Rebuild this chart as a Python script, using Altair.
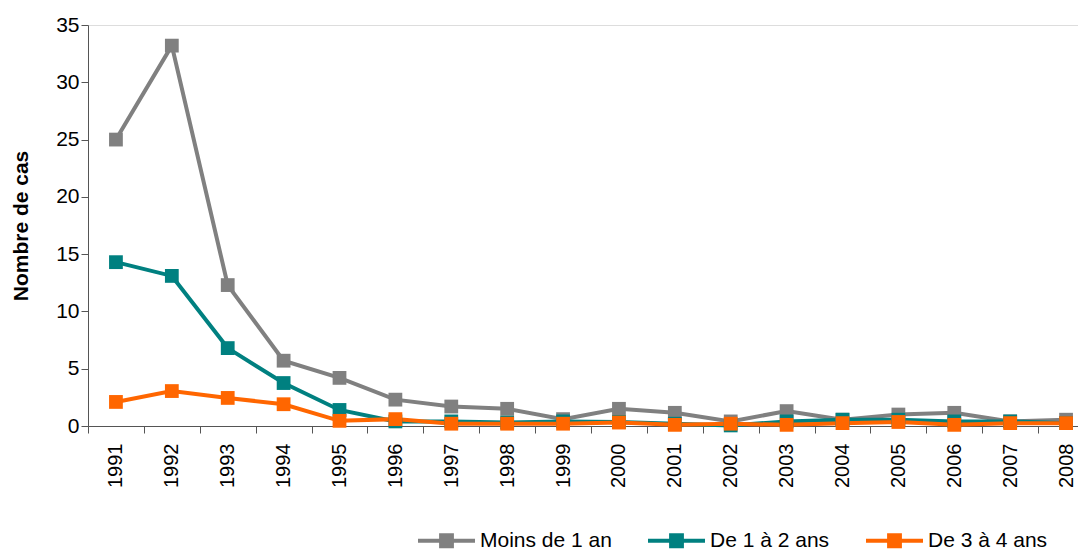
import altair as alt
import pandas as pd

years = [str(y) for y in range(1991, 2009)]
series_names = ["Moins de 1 an", "De 1 à 2 ans", "De 3 à 4 ans"]
colors = ["#808080", "#008080", "#FF6600"]

moins_1 = [25.0, 33.2, 12.3, 5.7, 4.2, 2.3, 1.7, 1.5, 0.6, 1.5, 1.15, 0.4, 1.3, 0.55, 1.0, 1.15, 0.4, 0.55]
de_1_2 = [14.3, 13.1, 6.8, 3.75, 1.4, 0.4, 0.4, 0.3, 0.4, 0.35, 0.2, 0.05, 0.4, 0.55, 0.55, 0.4, 0.4, 0.25]
de_3_4 = [2.1, 3.05, 2.45, 1.9, 0.45, 0.6, 0.2, 0.2, 0.2, 0.3, 0.1, 0.2, 0.1, 0.25, 0.35, 0.1, 0.25, 0.25]

rows = []
for k, (name, vals) in enumerate(zip(series_names, [moins_1, de_1_2, de_3_4])):
    for y, v in zip(years, vals):
        rows.append({"Année": y, "Groupe": name, "Cas": v, "ord": k})
df = pd.DataFrame(rows)

FONT = "Liberation Sans"
legend_symbol = "M-1,-0.07H1V0.07H-1Z M-0.26,-0.26H0.26V0.26H-0.26Z"

legend = alt.Legend(
    title=None,
    orient="none",
    legendX=330,
    legendY=487,
    direction="horizontal",
    symbolType=legend_symbol,
    symbolSize=3249,
    symbolStrokeWidth=0,
    labelFont=FONT,
    labelFontSize=21,
    labelColor="black",
    labelOffset=5,
    columnPadding=36,
)

color = alt.Color(
    "Groupe:N",
    scale=alt.Scale(domain=series_names, range=colors),
    sort=series_names,
    legend=legend,
)

x = alt.X(
    "Année:O",
    sort=years,
    scale=alt.Scale(paddingInner=0, paddingOuter=0, range=[0, 1006]),
    axis=alt.Axis(
        title=None,
        labelAngle=270,
        labelFontSize=20,
        labelFont=FONT,
        labelColor="black",
        labelPadding=10,
        labelBaseline="middle",
        labelAlign="right",
        tickBand="extent",
        tickSize=7,
        tickColor="#555555",
        domainColor="#555555",
        grid=False,
    ),
)
y = alt.Y(
    "Cas:Q",
    scale=alt.Scale(domain=[0, 35], nice=False),
    axis=alt.Axis(
        title="Nombre de cas",
        titleFont=FONT,
        titleFontSize=21,
        titleFontWeight="bold",
        titleColor="black",
        titlePadding=24,
        values=[0, 5, 10, 15, 20, 25, 30, 35],
        labelFontSize=21,
        labelFont=FONT,
        labelColor="black",
        labelPadding=2,
        tickSize=7,
        tickColor="#555555",
        domainColor="#555555",
        grid=False,
    ),
)

lines = alt.Chart(df).mark_line(strokeWidth=4).encode(
    x=x, y=y, color=color, detail="ord:O",
)

points = alt.Chart(df).mark_point(shape="square", filled=True, size=190, opacity=1).encode(
    x=x, y=y, color=color,
)

chart = (
    alt.layer(lines, points)
    .properties(
        width=990,
        height=401,
        autosize=alt.AutoSizeParams(type="none"),
        padding={"left": 80, "top": 17, "right": 0, "bottom": 124},
    )
    .configure_view(stroke=None)
    .configure(background="white")
)

chart.save("out.html", embed_options={"renderer": "svg", "actions": False})
